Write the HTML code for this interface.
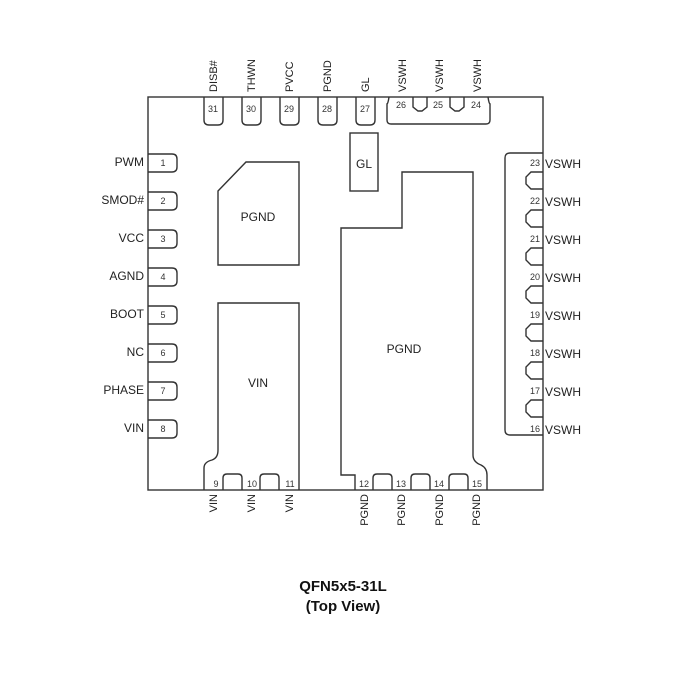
<!DOCTYPE html>
<html><head><style>body{margin:0;background:#fff}svg{display:block}</style></head><body>
<svg width="700" height="700" viewBox="0 0 700 700" xmlns="http://www.w3.org/2000/svg" font-family="Liberation Sans, Arial, sans-serif" fill="none" stroke="#333" stroke-width="1.4">
<rect x="0" y="0" width="700" height="700" fill="#fff" stroke="none"/>
<!-- package -->
<rect x="148" y="97" width="395" height="393"/>
<!-- top pins -->
<g>
<path d="M204 97 V120 Q204 125 209 125 H218 Q223 125 223 120 V97"/>
<path d="M242 97 V120 Q242 125 247 125 H256 Q261 125 261 120 V97"/>
<path d="M280 97 V120 Q280 125 285 125 H294 Q299 125 299 120 V97"/>
<path d="M318 97 V120 Q318 125 323 125 H332 Q337 125 337 120 V97"/>
<path d="M356 97 V120 Q356 125 361 125 H370 Q375 125 375 120 V97"/>
<path d="M389 97 Q388 104 387 104 V120 Q387 124 391 124 H486 Q490 124 490 120 V104 Q489 104 488 97"/>
<path d="M413 97 V107 L418 111 H422 L427 107 V97"/>
<path d="M450 97 V107 L455 111 H459 L464 107 V97"/>
</g>
<g fill="#333" stroke="none" font-size="9" text-anchor="middle">
<text x="213" y="112">31</text><text x="251" y="112">30</text><text x="289" y="112">29</text><text x="327" y="112">28</text><text x="365" y="112">27</text>
<text x="401" y="108">26</text><text x="438" y="108">25</text><text x="476" y="108">24</text>
</g>
<g fill="#222" stroke="none" font-size="11" text-anchor="start">
<text transform="translate(217,92) rotate(-90)">DISB#</text>
<text transform="translate(255,92) rotate(-90)">THWN</text>
<text transform="translate(293,92) rotate(-90)">PVCC</text>
<text transform="translate(331,92) rotate(-90)">PGND</text>
<text transform="translate(369,92) rotate(-90)">GL</text>
<text transform="translate(406,92) rotate(-90)">VSWH</text>
<text transform="translate(443,92) rotate(-90)">VSWH</text>
<text transform="translate(481,92) rotate(-90)">VSWH</text>
</g>
<!-- left pins -->
<g>
<path d="M148 154 H172 Q177 154 177 159 V167 Q177 172 172 172 H148"/>
<path d="M148 192 H172 Q177 192 177 197 V205 Q177 210 172 210 H148"/>
<path d="M148 230 H172 Q177 230 177 235 V243 Q177 248 172 248 H148"/>
<path d="M148 268 H172 Q177 268 177 273 V281 Q177 286 172 286 H148"/>
<path d="M148 306 H172 Q177 306 177 311 V319 Q177 324 172 324 H148"/>
<path d="M148 344 H172 Q177 344 177 349 V357 Q177 362 172 362 H148"/>
<path d="M148 382 H172 Q177 382 177 387 V395 Q177 400 172 400 H148"/>
<path d="M148 420 H172 Q177 420 177 425 V433 Q177 438 172 438 H148"/>
</g>
<g fill="#333" stroke="none" font-size="9" text-anchor="middle">
<text x="163" y="166">1</text><text x="163" y="204">2</text><text x="163" y="242">3</text><text x="163" y="280">4</text>
<text x="163" y="318">5</text><text x="163" y="356">6</text><text x="163" y="394">7</text><text x="163" y="432">8</text>
</g>
<g fill="#222" stroke="none" font-size="12" text-anchor="end">
<text x="144" y="166">PWM</text><text x="144" y="204">SMOD#</text><text x="144" y="242">VCC</text><text x="144" y="280">AGND</text>
<text x="144" y="318">BOOT</text><text x="144" y="356">NC</text><text x="144" y="394">PHASE</text><text x="144" y="432">VIN</text>
</g>
<!-- right pins group -->
<path d="M543 153 H510 Q505 153 505 158 V430 Q505 435 510 435 H543"/>
<g>
<path d="M543 172 H531 L526 177 V184 L531 189 H543"/>
<path d="M543 210 H531 L526 215 V222 L531 227 H543"/>
<path d="M543 248 H531 L526 253 V260 L531 265 H543"/>
<path d="M543 286 H531 L526 291 V298 L531 303 H543"/>
<path d="M543 324 H531 L526 329 V336 L531 341 H543"/>
<path d="M543 362 H531 L526 367 V374 L531 379 H543"/>
<path d="M543 400 H531 L526 405 V412 L531 417 H543"/>
</g>
<g fill="#333" stroke="none" font-size="9" text-anchor="end">
<text x="540" y="166">23</text><text x="540" y="204">22</text><text x="540" y="242">21</text><text x="540" y="280">20</text>
<text x="540" y="318">19</text><text x="540" y="356">18</text><text x="540" y="394">17</text><text x="540" y="432">16</text>
</g>
<g fill="#222" stroke="none" font-size="12">
<text x="545" y="168">VSWH</text><text x="545" y="206">VSWH</text><text x="545" y="244">VSWH</text><text x="545" y="282">VSWH</text>
<text x="545" y="320">VSWH</text><text x="545" y="358">VSWH</text><text x="545" y="396">VSWH</text><text x="545" y="434">VSWH</text>
</g>
<!-- GL pad -->
<rect x="350" y="133" width="28" height="58"/>
<text x="364" y="168" fill="#222" stroke="none" font-size="12" text-anchor="middle">GL</text>
<!-- small PGND -->
<path d="M218 191 L246 162 H299 V265 H218 Z"/>
<text x="258" y="221" fill="#222" stroke="none" font-size="12" text-anchor="middle">PGND</text>
<!-- VIN -->
<path d="M204 490 V468 Q204 462 212 460 Q218 458 218 450 V303 H299 V490"/>
<path d="M223 490 V478 Q223 474 227 474 H238 Q242 474 242 478 V490"/>
<path d="M260 490 V478 Q260 474 264 474 H275 Q279 474 279 478 V490"/>
<text x="258" y="387" fill="#222" stroke="none" font-size="12" text-anchor="middle">VIN</text>
<g fill="#333" stroke="none" font-size="9" text-anchor="middle">
<text x="216" y="487">9</text><text x="252" y="487">10</text><text x="290" y="487">11</text>
</g>
<!-- big PGND -->
<path d="M355 490 V475 H341 V228 H402 V172 H473 V455 Q473 462 481 465 Q487 468 487 475 V490"/>
<path d="M373 490 V478 Q373 474 377 474 H388 Q392 474 392 478 V490"/>
<path d="M411 490 V478 Q411 474 415 474 H426 Q430 474 430 478 V490"/>
<path d="M449 490 V478 Q449 474 453 474 H464 Q468 474 468 478 V490"/>
<text x="404" y="353" fill="#222" stroke="none" font-size="12" text-anchor="middle">PGND</text>
<g fill="#333" stroke="none" font-size="9" text-anchor="middle">
<text x="364" y="487">12</text><text x="401" y="487">13</text><text x="439" y="487">14</text><text x="477" y="487">15</text>
</g>
<!-- bottom labels -->
<g fill="#222" stroke="none" font-size="11" text-anchor="end">
<text transform="translate(217,494) rotate(-90)">VIN</text>
<text transform="translate(255,494) rotate(-90)">VIN</text>
<text transform="translate(293,494) rotate(-90)">VIN</text>
<text transform="translate(368,494) rotate(-90)">PGND</text>
<text transform="translate(405,494) rotate(-90)">PGND</text>
<text transform="translate(443,494) rotate(-90)">PGND</text>
<text transform="translate(480,494) rotate(-90)">PGND</text>
</g>
<!-- title -->
<g fill="#111" stroke="none" font-size="15" font-weight="bold" text-anchor="middle">
<text x="343" y="591">QFN5x5-31L</text>
<text x="343" y="611">(Top View)</text>
</g>
</svg>
</body></html>
